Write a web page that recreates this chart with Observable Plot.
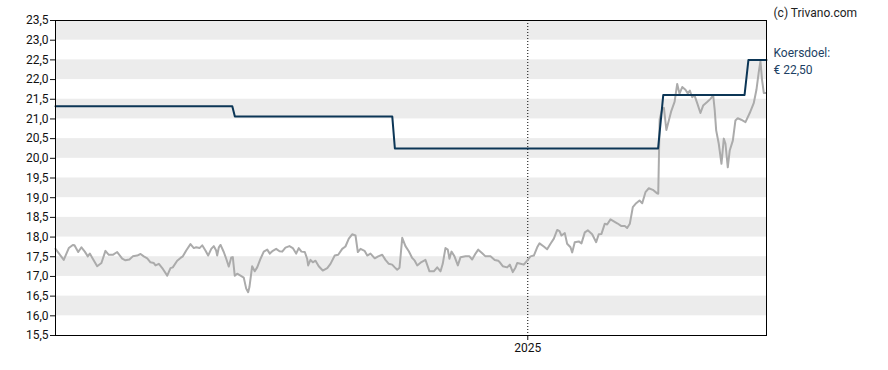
<!DOCTYPE html>
<html>
<head>
<meta charset="utf-8">
<script src="https://cdn.jsdelivr.net/npm/d3@7"></script>
<script src="https://cdn.jsdelivr.net/npm/@observablehq/plot@0.6"></script>
<style>
  html, body { margin: 0; padding: 0; background: #fff; }
  #chart { width: 888px; height: 370px; }
</style>
</head>
<body>
<div id="chart"></div>
<script>
// ---- Data ----
// x: days since 2024-01-01 (UTC); the chart spans 2024-01-01 .. 2025-07-05
const startDateUTC = Date.UTC(2024, 0, 1);
const endDay = 551;

// Share price (grey line)
const priceDays = [0,6.4,10.3,13.4,14.7,17.6,20.1,22.7,25.0,26.6,28.9,32.3,35.6,38.7,41.3,44.4,47.8,51.7,54.2,57.3,59.9,63.3,65.9,68.4,71.1,73.6,76.2,77.5,80.1,83.2,86.6,89.1,90.9,94.3,96.9,98.7,101.3,104.6,107.2,109.0,111.6,113.7,116.2,118.3,120.7,122.7,124.5,125.3,126.6,127.9,130.4,132.3,134.3,136.2,137.4,138.9,140.8,143.4,145.9,147.8,149.3,150.3,152.4,154.4,156.3,158.9,161.4,164.1,166.1,168.4,171.0,173.6,175.7,178.2,181.3,183.9,186.5,188.5,190.6,193.2,195.0,195.8,197.6,199.4,201.5,204.0,207.1,210.6,213.1,216.4,219.1,222.2,224.7,227.3,229.9,232.5,234.3,236.4,239.5,241.6,244.1,247.4,250.1,253.2,255.7,258.3,260.9,262.9,264.8,266.6,268.7,271.2,273.8,276.4,278.4,280.3,282.9,286.7,289.8,293.2,295.8,298.4,300.1,302.2,304.0,305.3,306.9,309.2,311.8,313.9,317.7,320.8,322.9,325.5,327.6,330.7,333.2,337.1,340.4,343.1,344.8,346.6,350.0,352.1,354.4,356.5,357.8,360.4,362.9,365.5,368.1,370.7,373.3,375.1,378.4,381.0,383.6,386.2,388.8,390.6,392.1,394.7,396.5,399.1,400.4,402.4,405.5,407.6,410.2,412.5,415.9,419.0,421.0,423.1,425.7,427.5,430.1,432.7,435.3,438.6,441.2,443.0,445.1,447.4,450.0,452.6,454.7,457.2,459.8,462.9,466.3,467.1,468.2,470.3,471.5,473.4,475.3,477.2,479.8,481.8,483.6,485.7,488.2,490.0,491.6,493.4,495.2,497.3,499.8,501.9,505.0,507.6,509.7,510.9,512.0,514.0,516.1,517.9,519.2,521.0,522.5,524.9,526.9,528.7,531.4,534.7,538.0,541.1,543.2,545.0,546.3,547.6,548.9,550.4];
const priceValues = [17.70,17.42,17.72,17.80,17.79,17.62,17.74,17.63,17.51,17.58,17.45,17.26,17.34,17.65,17.55,17.55,17.62,17.45,17.41,17.43,17.51,17.53,17.57,17.51,17.46,17.36,17.34,17.28,17.32,17.19,17.02,17.21,17.23,17.40,17.47,17.51,17.66,17.82,17.72,17.74,17.72,17.79,17.66,17.53,17.70,17.77,17.66,17.53,17.74,17.80,17.62,17.45,17.25,17.48,17.49,17.02,17.07,17.02,16.97,16.69,16.60,16.73,17.26,17.13,17.23,17.45,17.63,17.68,17.58,17.65,17.70,17.64,17.63,17.73,17.77,17.72,17.58,17.72,17.63,17.62,17.45,17.28,17.42,17.36,17.40,17.26,17.15,17.21,17.32,17.53,17.55,17.70,17.76,17.96,18.07,18.04,17.62,17.70,17.65,17.53,17.58,17.46,17.51,17.55,17.42,17.32,17.30,17.23,17.17,17.22,17.98,17.77,17.64,17.47,17.40,17.28,17.35,17.42,17.13,17.13,17.23,17.13,17.32,17.72,17.68,17.45,17.63,17.51,17.28,17.49,17.51,17.51,17.43,17.58,17.68,17.59,17.51,17.51,17.42,17.40,17.34,17.26,17.23,17.30,17.11,17.23,17.34,17.32,17.30,17.40,17.51,17.53,17.74,17.84,17.76,17.69,17.83,17.96,18.18,18.15,18.04,18.10,17.83,17.74,17.61,17.87,17.89,17.84,18.12,18.17,18.07,17.87,18.07,18.08,18.34,18.32,18.45,18.40,18.35,18.28,18.28,18.23,18.34,18.76,18.86,18.93,18.86,19.14,19.24,19.20,19.11,19.10,21.00,21.26,21.28,20.72,20.96,21.20,21.44,21.89,21.64,21.81,21.74,21.65,21.72,21.55,21.60,21.40,21.15,21.34,21.43,21.51,21.60,21.21,20.71,20.37,19.86,20.50,20.37,19.77,20.20,20.45,20.96,21.02,20.98,20.92,21.15,21.40,21.74,22.19,22.47,21.98,21.66,21.66];

// Price target (dark blue step line)
const targetDays   = [0, 137, 139, 261, 263, 467, 471, 534, 537, 551];
const targetValues = [21.32, 21.32, 21.06, 21.06, 20.25, 20.25, 21.61, 21.61, 22.50, 22.50];

// Axis ticks / labels
const yTicks = [15.5,16.0,16.5,17.0,17.5,18.0,18.5,19.0,19.5,20.0,20.5,21.0,21.5,22.0,22.5,23.0,23.5];
const xTickDates = ["2025-01-01"];
const xTickLabels = ["2025"];
const bandLows = [16, 17, 18, 19, 20, 21, 22, 23];   // shaded half-unit bands
const copyrightText = "(c) Trivano.com";
const targetLabel = "Koersdoel:\n€ 22,50";
const targetLast = 22.50;

// ---- Build tables ----
const toDate = d => new Date(startDateUTC + d * 864e5);
const price = priceDays.map((d, i) => ({date: toDate(d), value: priceValues[i]}));
const target = targetDays.map((d, i) => ({date: toDate(d), value: targetValues[i]}));
const xDomain = [toDate(0), toDate(endDay)];
const xTicks = xTickDates.map(s => new Date(s + "T00:00:00Z"));
const fmtY = v => v.toFixed(1).replace(".", ",");

const chart = Plot.plot({
  width: 888,
  height: 370,
  marginLeft: 55,
  marginTop: 20,
  marginRight: 122,
  marginBottom: 35,
  style: {fontFamily: "Roboto, 'Open Sans', sans-serif", fontSize: "12px", color: "#111", background: "#fff", overflow: "visible"},
  x: {type: "utc", domain: xDomain, ticks: xTicks, tickFormat: (d, i) => xTickLabels[i], tickSize: 5, tickPadding: 3, label: null},
  y: {domain: [15.5, 23.5], ticks: yTicks, tickFormat: fmtY, tickSize: 5, tickPadding: 2, label: null},
  marks: [
    Plot.rect(bandLows, {x1: xDomain[0], x2: xDomain[1], y1: d => d, y2: d => d + 0.5, fill: "#ececec"}),
    Plot.ruleX(xTicks, {stroke: "#000", strokeWidth: 1, strokeDasharray: "1,2"}),
    Plot.line(price, {x: "date", y: "value", stroke: "#ababab", strokeWidth: 2, strokeLinejoin: "round"}),
    Plot.line(target, {x: "date", y: "value", stroke: "#0c3656", strokeWidth: 2, strokeLinejoin: "round"}),
    Plot.frame({stroke: "#000", strokeWidth: 1}),
    Plot.text([targetLabel], {x: xDomain[1], y: targetLast, text: d => d, textAnchor: "start", dx: 7, lineHeight: 1.4, fill: "#1c3f63", fontSize: 12}),
    Plot.text([copyrightText], {frameAnchor: "top-right", text: d => d, textAnchor: "start", dx: 7, dy: -12, fill: "#222", fontSize: 12})
  ]
});
document.getElementById("chart").appendChild(chart);
</script>
</body>
</html>
